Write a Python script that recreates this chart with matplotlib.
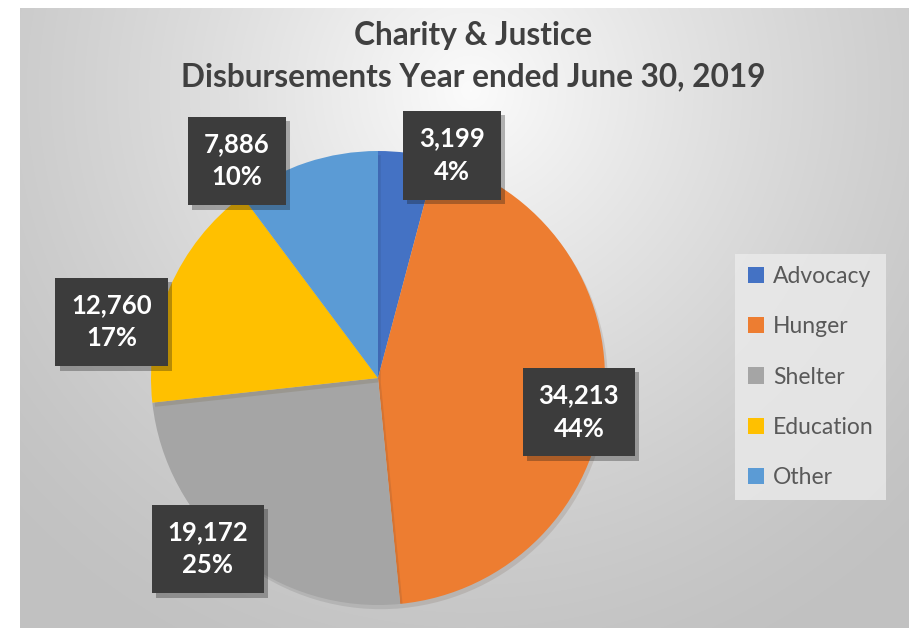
import numpy as np
import matplotlib
matplotlib.use("Agg")
import matplotlib.pyplot as plt
from matplotlib import patheffects as pe

categories = ["Advocacy", "Hunger", "Shelter", "Education", "Other"]
values = [3199, 34213, 19172, 12760, 7886]
value_labels = ["3,199", "34,213", "19,172", "12,760", "7,886"]
colors = ["#4472C4", "#ED7D31", "#A5A5A5", "#FFC000", "#5B9BD5"]
title_lines = ["Charity & Justice", "Disbursements Year ended June 30, 2019"]

# label box centres in pie-axes data coords (layout)
label_pos = [(0.326, 0.982), (0.885, -0.150), (-0.749, -0.753), (-1.173, 0.247), (-0.621, 0.956)]

FONT = ["Lato", "DejaVu Sans"]
W, H = 913, 633
fig = plt.figure(figsize=(W / 100, H / 100), dpi=100)
fig.patch.set_facecolor("white")

def fr(x0, y0, x1, y1):
    return [x0 / W, 1 - y1 / H, (x1 - x0) / W, (y1 - y0) / H]

# background gradient
bg = fig.add_axes(fr(20, 8, 908, 628))
yy, xx = np.mgrid[8:628, 20:908]
d = np.sqrt((xx - 470) ** 2 + (yy - 90) ** 2)
t = np.clip(d / 620.0, 0, 1)
lo, hi = 0.985, 0.76
g = hi + (lo - hi) * (1 - t) ** 1.3
img = np.dstack([g, g, g])
bg.imshow(img, aspect="auto", extent=[0, 1, 0, 1], interpolation="bilinear")
bg.set_axis_off()

# title
for i, line in enumerate(title_lines):
    fig.text(473 / W, 1 - (35 + i * 42) / H, line, ha="center", va="center",
             fontsize=22.8, fontweight="bold", color="#404040", family=FONT)

# pie
ax = fig.add_axes(fr(151, 151, 605, 605))
wedges, _ = ax.pie(values, colors=colors, startangle=90, counterclock=False,
                   radius=1.0, wedgeprops=dict(linewidth=0))
ax.set_xlim(-1, 1)
ax.set_ylim(-1, 1)
ax.set_axis_off()
for w in wedges:
    w.set_path_effects([pe.SimplePatchShadow(offset=(2, -3), alpha=0.12), pe.Normal()])

total = sum(values)
for (x, y), vl, v in zip(label_pos, value_labels, values):
    pct = f"{round(100 * v / total)}%"
    txt = ax.text(x, y, f"{vl}\n{pct}", ha="center", va="center", fontsize=18.5,
                  fontweight="bold", color="white", family=FONT, linespacing=1.45,
                  bbox=dict(boxstyle="square,pad=0.62", facecolor="#3c3c3c",
                            edgecolor="none"), clip_on=False, zorder=5)
    txt.get_bbox_patch().set_path_effects(
        [pe.SimplePatchShadow(offset=(3, -3), alpha=0.3), pe.Normal()])

# legend
handles = [plt.Rectangle((0, 0), 1, 1, facecolor=c, edgecolor="none") for c in colors]
leg = fig.legend(handles, categories, loc="center left",
                 bbox_to_anchor=(735 / W, 1 - 377 / H), frameon=True,
                 labelspacing=1.27, handlelength=0.7, handleheight=0.7,
                 handletextpad=0.4, borderpad=0.55, borderaxespad=0, fancybox=False,
                 prop=dict(family=FONT, size=16.5))
for t_ in leg.get_texts():
    t_.set_color("#595959")
fr_ = leg.get_frame()
fr_.set_facecolor("#ebebeb")
fr_.set_alpha(0.8)
fr_.set_edgecolor("none")

fig.savefig("out.png", dpi=100, facecolor="white")
